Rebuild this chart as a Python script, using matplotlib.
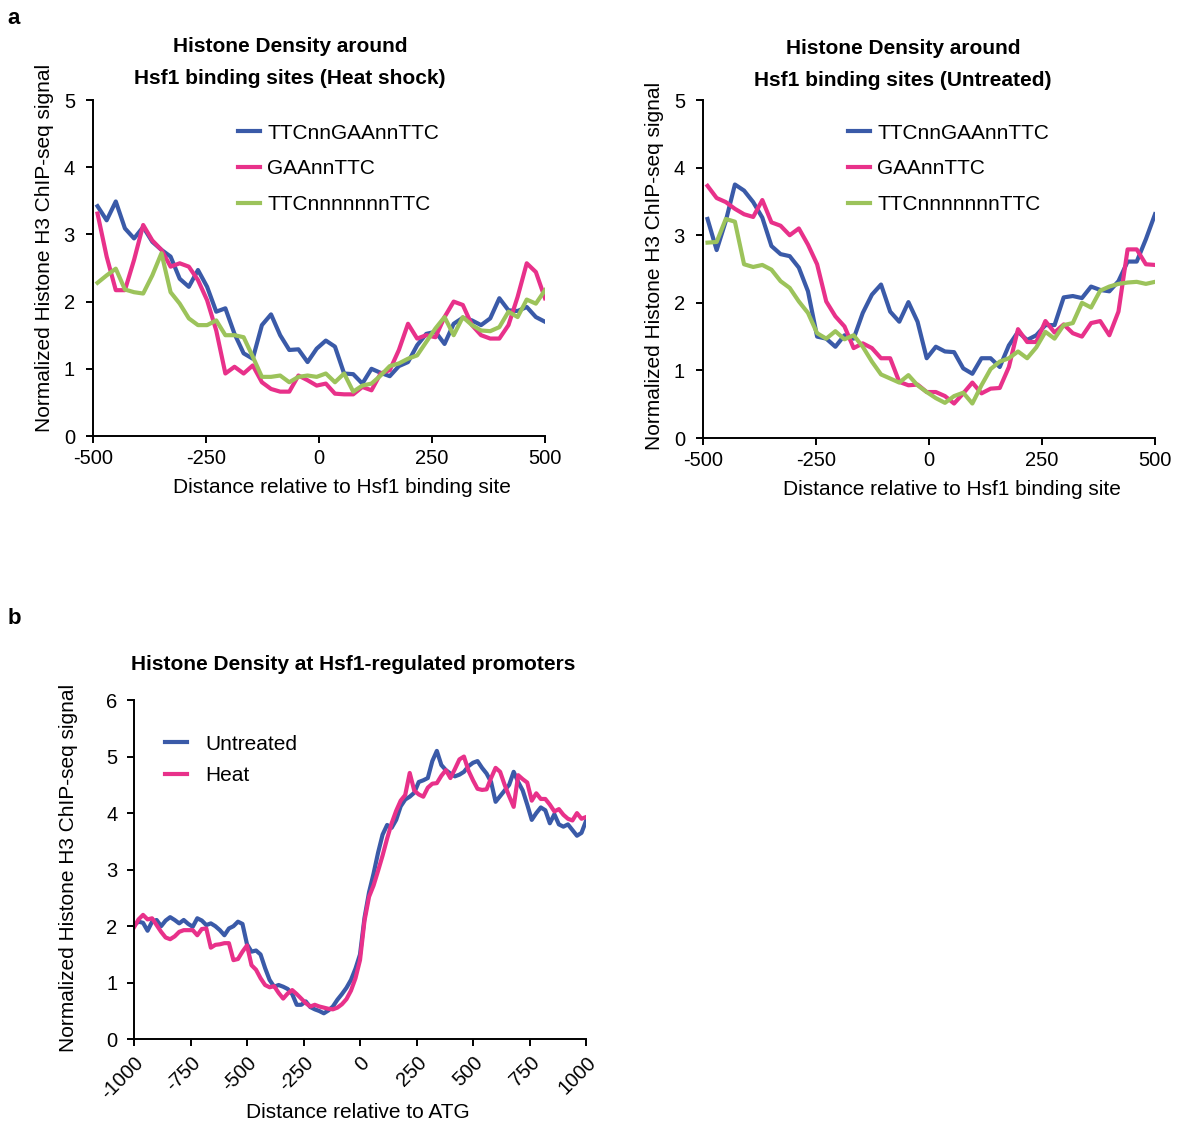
import numpy as np
import matplotlib
matplotlib.use("Agg")
import matplotlib.pyplot as plt

plt.rcParams['font.family'] = ['Liberation Sans', 'DejaVu Sans']
plt.rcParams['axes.unicode_minus'] = False

# ---------------- data: panel a (heat shock) ----------------
hs_TTCnnGAAnnTTC = [3.42, 3.21, 3.49, 3.09, 2.94, 3.11, 2.89, 2.77, 2.67, 2.34,
                    2.22, 2.47, 2.22, 1.85, 1.90, 1.52, 1.23, 1.15, 1.65, 1.81,
                    1.50, 1.28, 1.29, 1.10, 1.30, 1.42, 1.33, 0.93, 0.92, 0.78,
                    1.00, 0.94, 0.89, 1.04, 1.10, 1.35, 1.52, 1.55, 1.37, 1.67,
                    1.76, 1.72, 1.65, 1.75, 2.05, 1.87, 1.86, 1.92, 1.77, 1.70]
hs_GAAnnTTC = [3.31, 2.67, 2.17, 2.17, 2.62, 3.14, 2.91, 2.77, 2.52, 2.57,
               2.52, 2.32, 2.02, 1.57, 0.93, 1.03, 0.93, 1.05, 0.80, 0.70,
               0.66, 0.66, 0.90, 0.83, 0.75, 0.78, 0.63, 0.62, 0.62, 0.73,
               0.68, 0.93, 0.98, 1.28, 1.67, 1.45, 1.50, 1.47, 1.77, 2.00,
               1.95, 1.65, 1.50, 1.45, 1.45, 1.65, 2.07, 2.57, 2.44, 2.05]
hs_TTCnnnnnnnTTC = [2.28, 2.39, 2.49, 2.18, 2.14, 2.12, 2.39, 2.72, 2.14, 1.97,
                    1.75, 1.65, 1.65, 1.72, 1.50, 1.50, 1.47, 1.18, 0.88, 0.88,
                    0.90, 0.80, 0.88, 0.90, 0.88, 0.93, 0.80, 0.93, 0.66, 0.75,
                    0.78, 0.90, 1.04, 1.08, 1.15, 1.20, 1.40, 1.60, 1.77, 1.50,
                    1.77, 1.65, 1.57, 1.56, 1.62, 1.85, 1.77, 2.03, 1.97, 2.17]

# ---------------- data: panel a (untreated) ----------------
ut_TTCnnGAAnnTTC = [3.24, 2.78, 3.21, 3.75, 3.66, 3.49, 3.26, 2.84, 2.72, 2.69,
                    2.52, 2.17, 1.50, 1.47, 1.35, 1.52, 1.47, 1.85, 2.12, 2.27,
                    1.87, 1.72, 2.01, 1.72, 1.18, 1.35, 1.28, 1.27, 1.03, 0.95,
                    1.18, 1.18, 1.05, 1.37, 1.57, 1.45, 1.52, 1.67, 1.67, 2.08,
                    2.10, 2.07, 2.24, 2.19, 2.17, 2.32, 2.61, 2.61, 2.94, 3.31]
ut_GAAnnTTC = [3.73, 3.55, 3.49, 3.39, 3.31, 3.27, 3.52, 3.19, 3.14, 3.00,
               3.10, 2.86, 2.57, 2.02, 1.80, 1.65, 1.33, 1.40, 1.33, 1.18,
               1.18, 0.83, 0.78, 0.79, 0.68, 0.68, 0.62, 0.51, 0.66, 0.82,
               0.66, 0.73, 0.74, 1.05, 1.61, 1.42, 1.42, 1.73, 1.56, 1.68,
               1.55, 1.50, 1.70, 1.73, 1.52, 1.87, 2.79, 2.79, 2.57, 2.56]
ut_TTCnnnnnnnTTC = [2.89, 2.90, 3.24, 3.20, 2.57, 2.53, 2.56, 2.49, 2.32, 2.22,
                    2.02, 1.85, 1.55, 1.47, 1.58, 1.46, 1.52, 1.35, 1.13, 0.94,
                    0.88, 0.82, 0.93, 0.78, 0.68, 0.59, 0.52, 0.62, 0.67, 0.51,
                    0.78, 1.02, 1.13, 1.18, 1.28, 1.18, 1.34, 1.57, 1.47, 1.67,
                    1.70, 2.00, 1.93, 2.18, 2.24, 2.28, 2.30, 2.31, 2.28, 2.31]

series_labels = ['TTCnnGAAnnTTC', 'GAAnnTTC', 'TTCnnnnnnnTTC']

# ---------------- data: panel b ----------------
untreated = [2.02, 2.08, 2.06, 1.92, 2.08, 2.11, 2.00, 2.10, 2.16, 2.11,
             2.05, 2.11, 2.04, 1.99, 2.14, 2.10, 2.02, 2.05, 2.00, 1.93,
             1.84, 1.96, 2.00, 2.08, 2.04,
             1.68, 1.55, 1.57, 1.50, 1.26, 1.05, 0.93, 0.96, 0.93, 0.89,
             0.80, 0.61, 0.61, 0.67, 0.57, 0.53, 0.50, 0.46, 0.51, 0.58,
             0.70, 0.80, 0.91, 1.05, 1.25,
             1.50, 2.15, 2.60, 2.93, 3.30, 3.62, 3.79, 3.74, 3.88, 4.12,
             4.24, 4.29, 4.36, 4.55, 4.58, 4.62, 4.92, 5.10, 4.85, 4.76,
             4.70, 4.65, 4.68, 4.73, 4.83,
             4.89, 4.92, 4.80, 4.70, 4.55, 4.20, 4.30, 4.40, 4.50, 4.73,
             4.55, 4.40, 4.15, 3.88, 4.00, 4.10, 4.05, 3.82, 3.98, 3.80,
             3.76, 3.80, 3.70, 3.60, 3.65, 3.86]
heat = [1.98, 2.12, 2.20, 2.12, 2.14, 2.02, 1.90, 1.80, 1.77, 1.82,
        1.90, 1.93, 1.93, 1.93, 1.84, 1.95, 1.96, 1.62, 1.67, 1.68,
        1.70, 1.70, 1.40, 1.42, 1.55,
        1.66, 1.31, 1.23, 1.08, 0.96, 0.92, 0.94, 0.82, 0.72, 0.81,
        0.87, 0.80, 0.72, 0.64, 0.58, 0.61, 0.58, 0.56, 0.54, 0.53,
        0.56, 0.62, 0.71, 0.86, 1.08,
        1.40, 2.10, 2.52, 2.72, 2.98, 3.25, 3.55, 3.82, 4.04, 4.22,
        4.32, 4.71, 4.40, 4.33, 4.29, 4.45, 4.52, 4.53, 4.66, 4.76,
        4.62, 4.78, 4.95, 5.00, 4.75,
        4.58, 4.43, 4.41, 4.42, 4.62, 4.80, 4.73, 4.50, 4.30, 4.11,
        4.67, 4.60, 4.54, 4.22, 4.35, 4.25, 4.25, 4.15, 4.03, 4.07,
        3.97, 3.90, 3.87, 4.00, 3.90, 3.93]

xticks_a = [-500, -250, 0, 250, 500]
xticks_b = [-1000, -750, -500, -250, 0, 250, 500, 750, 1000]

BLUE = '#3a5aa8'
PINK = '#e8318a'
GREEN = '#9cc35b'
colors = [BLUE, PINK, GREEN]

W, H = 1180, 1124
fig = plt.figure(figsize=(W / 100, H / 100), dpi=100)


def fx(px):
    return px / W


def fy(py):
    return 1 - py / H


def style_axes(ax, ypad):
    for s in ['top', 'right']:
        ax.spines[s].set_visible(False)
    for s in ['left', 'bottom']:
        ax.spines[s].set_linewidth(1.4)
    ax.tick_params(axis='both', direction='out', length=5, width=1.4,
                   labelsize=14.5)
    ax.tick_params(axis='x', pad=4)
    ax.tick_params(axis='y', pad=ypad)


FS = 15
LW = 3.0
x_a = np.linspace(-490, 500, len(hs_TTCnnGAAnnTTC))
x_b = np.linspace(-1000, 1000, len(untreated))

panels = [
    (93, 100, 436, [hs_TTCnnGAAnnTTC, hs_GAAnnTTC, hs_TTCnnnnnnnTTC],
     ('Histone Density around', 'Hsf1 binding sites (Heat shock)'), 290, 46, 78, 0.56),
    (703, 100, 438, [ut_TTCnnGAAnnTTC, ut_GAAnnTTC, ut_TTCnnnnnnnTTC],
     ('Histone Density around', 'Hsf1 binding sites (Untreated)'), 903, 48, 80, 0.51),
]

for left, top, bottom, data, titles, tcx, ty1, ty2, ylc in panels:
    ax = fig.add_axes([fx(left), fy(bottom), 452 / W, (bottom - top) / H])
    for vals, c, lab in zip(data, colors, series_labels):
        ax.plot(x_a, vals, color=c, lw=LW, label=lab)
    ax.set_xlim(-500, 500)
    ax.set_ylim(0, 5)
    ax.set_xticks(xticks_a)
    ax.set_yticks(range(6))
    style_axes(ax, 8)
    ax.set_xlabel('Distance relative to Hsf1 binding site', fontsize=FS, va='center')
    ax.xaxis.set_label_coords((342 - 93) / 452, -0.152)
    ax.set_ylabel('Normalized Histone H3 ChIP-seq signal', fontsize=FS, va='center')
    ax.yaxis.set_label_coords(-0.108, ylc)
    ax.legend(loc='upper left', bbox_to_anchor=(0.321, 0.93), frameon=False,
              fontsize=FS, handlelength=1.05, handletextpad=0.35,
              labelspacing=0.8, borderpad=0, borderaxespad=0)
    fig.text(fx(tcx), fy(ty1), titles[0], fontsize=FS, fontweight='bold',
             ha='center', va='center')
    fig.text(fx(tcx), fy(ty2), titles[1], fontsize=FS, fontweight='bold',
             ha='center', va='center')

# panel b
axb = fig.add_axes([fx(134), fy(1039.3), 452 / W, 339.3 / H])
axb.plot(x_b, untreated, color=BLUE, lw=LW, label='Untreated')
axb.plot(x_b, heat, color=PINK, lw=LW, label='Heat')
axb.set_xlim(-1000, 1000)
axb.set_ylim(0, 6)
axb.set_xticks(xticks_b)
axb.set_xticklabels([str(t) for t in xticks_b], rotation=45, ha='right',
                    va='top', rotation_mode='anchor')
axb.set_yticks(range(7))
style_axes(axb, 7)
axb.tick_params(axis='x', pad=5)
axb.set_xlabel('Distance relative to ATG', fontsize=FS, va='center')
axb.xaxis.set_label_coords((358 - 134) / 452, (1039.3 - 1112) / 339.3)
axb.set_ylabel('Normalized Histone H3 ChIP-seq signal', fontsize=FS, va='center')
axb.yaxis.set_label_coords(-0.145, 0.505)
axb.legend(loc='upper left', bbox_to_anchor=(0.068, 0.898), frameon=False,
           fontsize=FS, handlelength=1.06, handletextpad=0.87,
           labelspacing=0.6, borderpad=0, borderaxespad=0)
fig.text(fx(353), fy(665), 'Histone Density at Hsf1-regulated promoters',
         fontsize=FS, fontweight='bold', ha='center', va='center')

fig.text(fx(14), fy(18), 'a', fontsize=16, fontweight='bold', ha='center', va='center')
fig.text(fx(14), fy(618), 'b', fontsize=16, fontweight='bold', ha='center', va='center')

fig.savefig('out.png', dpi=100, facecolor='white')
